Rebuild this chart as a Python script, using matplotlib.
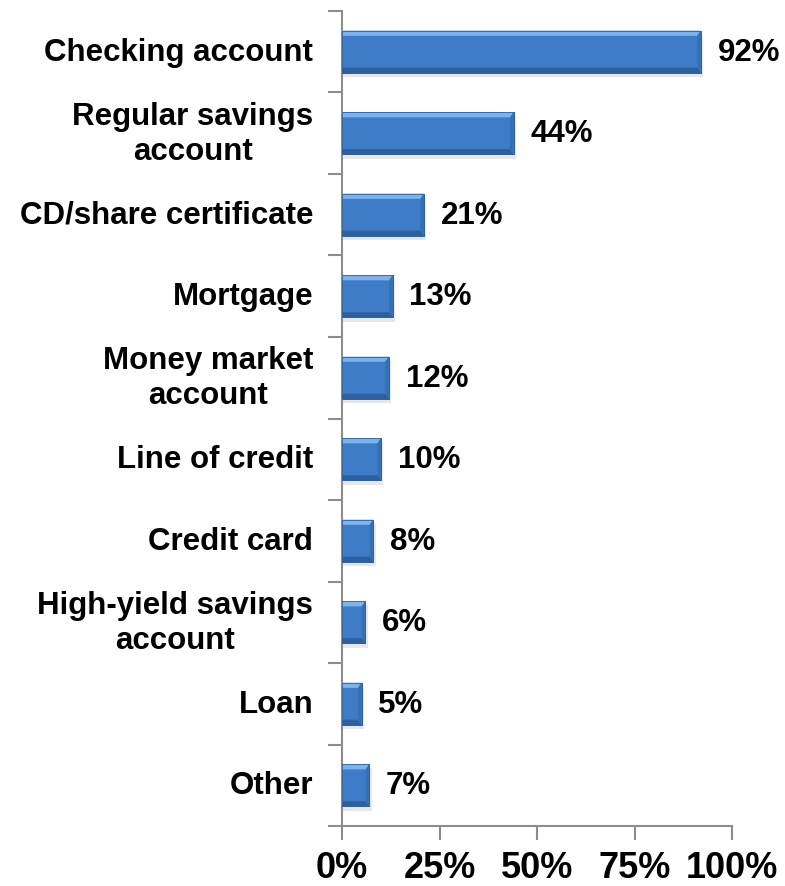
import matplotlib.pyplot as plt
from matplotlib.patches import Polygon, Rectangle

plt.rcParams['font.family'] = ['Liberation Sans', 'DejaVu Sans']
plt.rcParams['font.weight'] = 'bold'

categories = [
    "Checking account",
    "Regular savings\naccount",
    "CD/share certificate",
    "Mortgage",
    "Money market\naccount",
    "Line of credit",
    "Credit card",
    "High-yield savings\naccount",
    "Loan",
    "Other",
]
shares = [92, 44, 21, 13, 12, 10, 8, 6, 5, 7]
x_ticks = [0, 25, 50, 75, 100]

face = "#3E7CC7"
light = "#7DB2EA"
dark = "#2E609E"
side = "#3570B5"

fig = plt.figure(figsize=(7.85, 8.87), dpi=100)
ax = fig.add_axes([0.4357, 0.0676, 0.4968, 0.9189])

h = 0.52
pos = list(range(len(categories)))

# soft drop shadow, then the bars themselves
ax.barh([p + 0.05 for p in pos], [v + 0.6 for v in shares], height=h,
        color="#D8D8D8", alpha=0.6, zorder=1)
ax.barh(pos, shares, height=h, color=face, edgecolor=dark, linewidth=0.6, zorder=2)

# bevelled edges on each bar
dx, dy = 0.9, 0.065
for p, v in zip(pos, shares):
    top, bot = p - h / 2, p + h / 2
    ax.add_patch(Polygon([(0, top), (v, top), (v - dx, top + dy), (0, top + dy)],
                         closed=True, color=light, lw=0, zorder=3))
    ax.add_patch(Polygon([(0, bot), (v, bot), (v - dx, bot - dy), (0, bot - dy)],
                         closed=True, color=dark, lw=0, zorder=3))
    ax.add_patch(Polygon([(v, top), (v, bot), (v - dx, bot - dy), (v - dx, top + dy)],
                         closed=True, color=side, lw=0, zorder=3))
    ax.add_patch(Rectangle((0, top), v, h, fill=False, edgecolor=dark, lw=0.6, zorder=4))
    ax.text(v + 4.3, p, f"{v}%", va="center", ha="left", fontsize=22.5,
            fontweight="bold", zorder=5)

ax.set_xlim(0, 100)
ax.set_ylim(len(categories) - 0.5, -0.5)
ax.set_xticks(x_ticks)
ax.set_xticklabels([f"{t}%" for t in x_ticks], fontsize=26, fontweight="bold")
ax.set_yticks([p - 0.5 for p in pos] + [len(categories) - 0.5])
ax.set_yticklabels([])
for p, lab in zip(pos, categories):
    ax.text(-7.4, p, lab, ha="right", va="center", multialignment="center",
            fontsize=22.5, fontweight="bold", linespacing=1.22)

for s in ("top", "right"):
    ax.spines[s].set_visible(False)
for s in ("left", "bottom"):
    ax.spines[s].set_color("#8C8C8C")
    ax.spines[s].set_linewidth(1.5)
ax.tick_params(axis="both", color="#8C8C8C", width=1.5, length=10)
ax.tick_params(axis="x", pad=7)

fig.savefig("out.png", dpi=100)
